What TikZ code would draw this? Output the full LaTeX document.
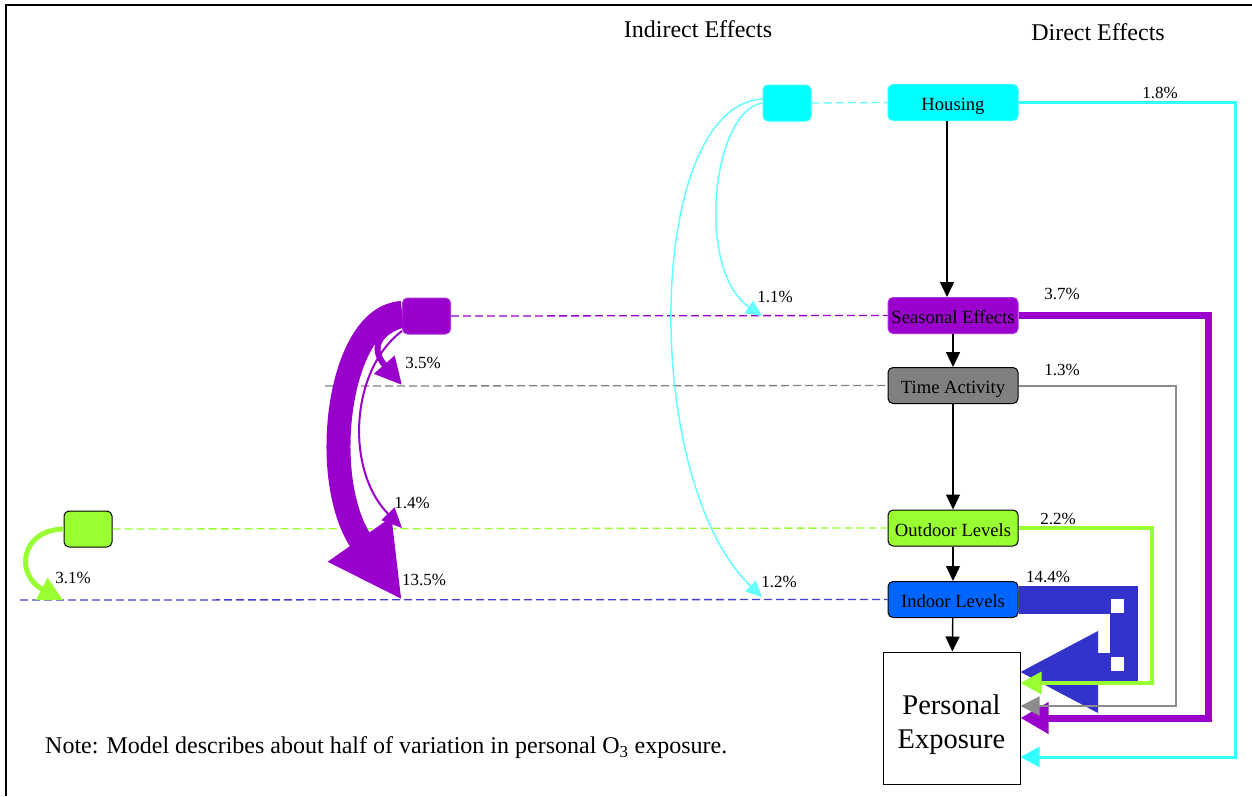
\documentclass[tikz,border=0pt]{standalone}
\usepackage{fontspec}
\setmainfont{Liberation Serif}
\usetikzlibrary{arrows.meta}

\definecolor{cyanfill}{HTML}{00FFFF}
\definecolor{cyanedge}{HTML}{33FFFF}
\definecolor{cyansoft}{HTML}{66FFFF}
\definecolor{purp}{HTML}{9900CC}
\definecolor{purpedge}{HTML}{AA33DD}
\definecolor{grayfill}{HTML}{808080}
\definecolor{grayline}{HTML}{8C8C8C}
\definecolor{limeg}{HTML}{99FF33}
\definecolor{bluebox}{HTML}{0066FF}
\definecolor{blueflow}{HTML}{3333CC}
\definecolor{bluedash}{HTML}{3F3FD0}

\begin{document}
\begin{tikzpicture}[x=1pt,y=-1pt,
  var/.style={rounded corners=5pt, minimum width=130pt, minimum height=36pt,
    inner sep=0pt, line width=1pt, text height=16.5pt, text depth=0pt,
    font=\fontsize{18.6}{20}\selectfont},
  stub/.style={rounded corners=5pt, minimum width=48pt, minimum height=36pt,
    inner sep=0pt, line width=1pt},
  flow/.style={draw=black, line width=1.4pt, -{Triangle[length=15pt,width=14pt]}},
  link/.style={line width=1.3pt, dash pattern=on 8pt off 4pt},
  pct/.style={font=\fontsize{17}{18}\selectfont, inner sep=0pt},
  head/.style={font=\fontsize{24}{26}\selectfont, inner sep=0pt}
]
\useasboundingbox (0,0) rectangle (1252,796);
\fill[white] (0,0) rectangle (1252,796);
\draw[line width=2pt] (6,796) -- (6,5) -- (1252,5);

\node[head] (tind) at (698,29) {Indirect Effects};
\node[head] (tdir) at (1098,32) {Direct Effects};

% model variables
\node[var, fill=cyanfill, draw=cyanedge] (housing) at (953,102.5) {Housing};
\node[var, fill=purp, draw=purpedge] (seasonal) at (953,315.5) {Seasonal Effects};
\node[var, fill=grayfill, draw=black] (time) at (953,385.5) {Time Activity};
\node[var, fill=limeg, draw=black] (outdoor) at (953,528) {Outdoor Levels};
\node[var, fill=bluebox, draw=black] (indoor) at (953,599.5) {Indoor Levels};
\node[draw=black, line width=1pt, minimum width=137pt, minimum height=132pt,
  inner sep=0pt,
  label={[align=center, inner sep=0pt, yshift=-7pt,
    font=\fontsize{28.5}{34}\selectfont]center:Personal\\Exposure}]
  (personal) at (951.5,718) {};

% sources of the indirect effects
\node[stub, fill=cyanfill, draw=cyanedge] (cstub) at (787,103) {};
\node[stub, fill=purp, draw=purpedge] (pstub) at (426.5,316) {};
\node[stub, fill=limeg, draw=black] (gstub) at (88,529) {};

\coordinate (tstart) at (325,386);
\coordinate (istart) at (20,600);
\coordinate (t11) at (762,316);
\coordinate (t12) at (762,597);
\coordinate (t35) at (402,385);
\coordinate (t14) at (402,528);
\coordinate (t135) at (402,600);
\coordinate (t31) at (63,600);

% dashed guide lines
\draw[link, cyansoft] (cstub.east) -- (housing.west);
\draw[link, purp] (pstub.east) -- (seasonal.west);
\draw[link, grayfill] (tstart) -- (time.west);
\draw[link, limeg] (gstub.east) -- (outdoor.west);
\draw[link, bluedash] (istart) -- (indoor.west);

% causal chain
\draw[flow] (housing.south -| 947,0) -- (seasonal.north -| 947,0);
\draw[flow] (seasonal) -- (time);
\draw[flow] (time) -- (outdoor);
\draw[flow] (outdoor) -- (indoor);
\draw[flow] (indoor) -- (personal);

% direct effects
\draw[blueflow, line width=28pt] (indoor.east) -| (1124,667) -- (1098,667);
\fill[blueflow] (1098,631) -- (1098,713) -- (personal.east |- 0,672) -- cycle;
\fill[white] (1111,599) rectangle (1124,613);
\fill[white] (1111,657) rectangle (1124,671);
\draw[purp, line width=7pt, -{Triangle[length=28pt,width=30pt]}]
  (seasonal.east) -| (1208,718) -- (personal.east |- 0,718);
\draw[grayline, line width=2pt, -{Triangle[length=19pt,width=19pt]}]
  (time.east) -| (1176,706) -- (personal.east |- 0,706);
\draw[limeg, line width=3.5pt, -{Triangle[length=21pt,width=22pt]}]
  (outdoor.east) -| (1152,683) -- (personal.east |- 0,683);
\draw[cyanedge, line width=3pt, -{Triangle[length=19pt,width=20pt]}]
  (housing.east) -| (1235,757) -- (personal.east |- 0,757);

% indirect effects
\draw[cyansoft, line width=1.5pt, -{Triangle[length=16pt,width=15pt]}]
  (cstub.west) .. controls (712,110) and (695,270) .. (t11);
\draw[cyansoft, line width=1.5pt, -{Triangle[length=16pt,width=15pt]}]
  ([yshift=4pt]cstub.west) .. controls (645,105) and (640,480) .. (t12);
\draw[purp, line width=24pt, -{Triangle[length=74pt,width=72pt]}]
  ([yshift=3pt]pstub.west) .. controls (338,316) and (318,480) .. (t135);
\draw[purp, line width=6pt, -{Triangle[length=27pt,width=26pt]}]
  ([yshift=-9pt]pstub.west) .. controls (385,330) and (367,345) .. (t35);
\draw[purp, line width=2pt, -{Triangle[length=20pt,width=18pt]}]
  ([yshift=-15pt]pstub.west) .. controls (350,370) and (345,470) .. (t14);
\draw[limeg, line width=5pt, -{Triangle[length=24pt,width=24pt]}]
  (gstub.west) .. controls (20,530) and (15,575) .. (t31);

% effect sizes
\node[pct] (l18) at (1160,93) {1.8\%};
\node[pct] (l37) at (1062,294) {3.7\%};
\node[pct] (l13) at (1062,370) {1.3\%};
\node[pct] (l22) at (1058,519) {2.2\%};
\node[pct] (l144) at (1048,577) {14.4\%};
\node[pct] (l11) at (775,297) {1.1\%};
\node[pct] (l12) at (779,582) {1.2\%};
\node[pct] (l35) at (423,363) {3.5\%};
\node[pct] (l14) at (412,503) {1.4\%};
\node[pct] (l135) at (424,580) {13.5\%};
\node[pct] (l31) at (73,578) {3.1\%};

\node[anchor=west, inner sep=0pt, font=\fontsize{24}{26}\selectfont] (note) at (45,748)
  {Note: Model describes about half of variation in personal O\textsubscript{3} exposure.};
\end{tikzpicture}
\end{document}
